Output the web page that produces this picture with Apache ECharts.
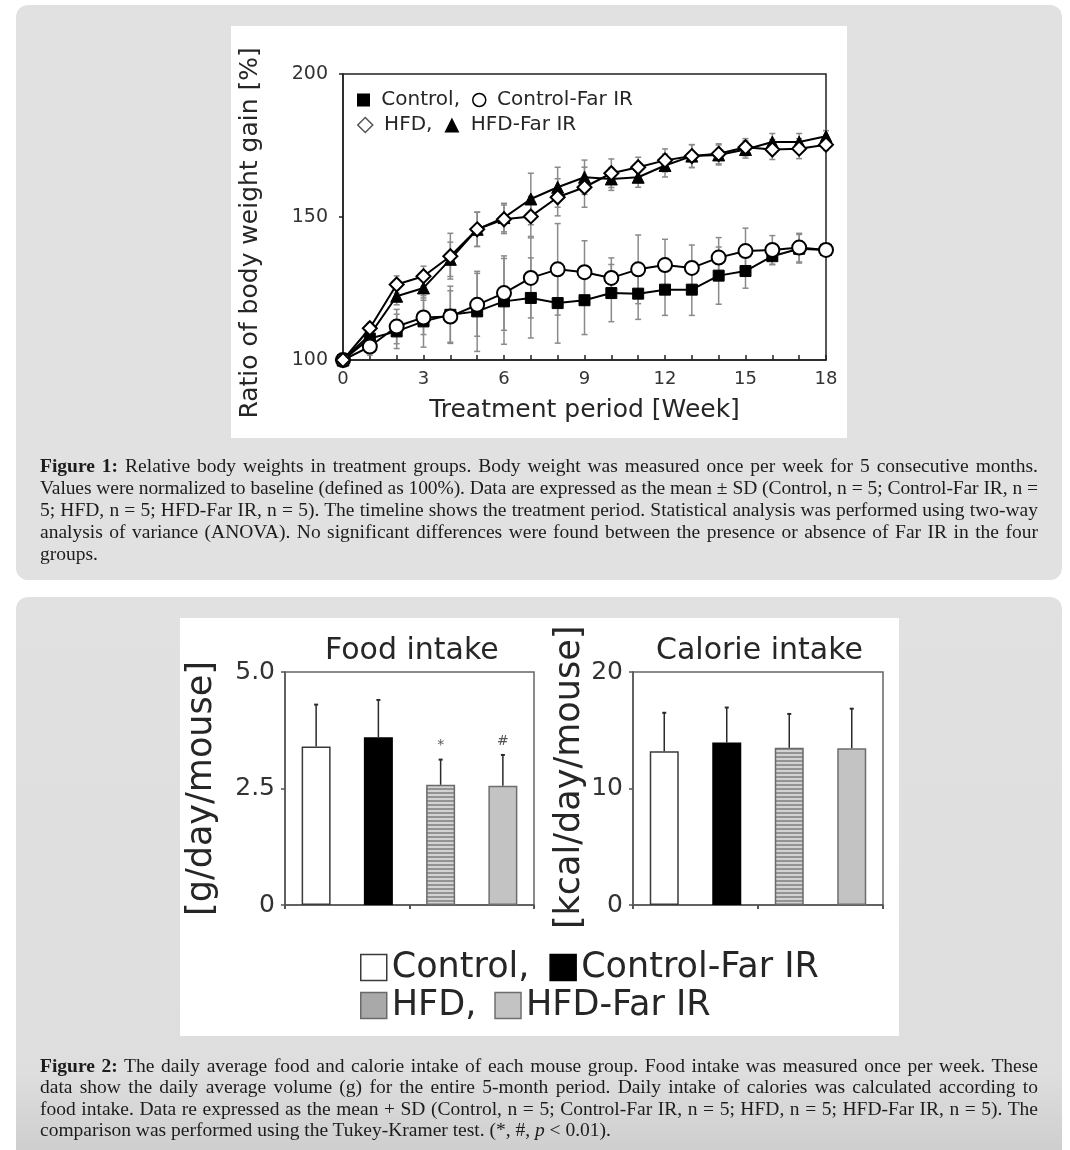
<!DOCTYPE html>
<html>
<head>
<meta charset="utf-8">
<script src="https://cdn.jsdelivr.net/npm/echarts@6/dist/echarts.min.js"></script>
<style>
html,body{margin:0;padding:0;background:#fff;}
#wrap{position:relative;width:1070px;height:1150px;overflow:hidden;background:#fff;}
.panel{position:absolute;left:16px;width:1046px;border-radius:12px;background:#e1e1e1;}
#p1{top:5px;height:575px;}
#p2{top:597px;height:580px;background:linear-gradient(to bottom,#e1e1e1 0%,#dedede 82%,#c9c9c9 100%);}
.wbox{position:absolute;background:#fff;}
#w1{left:231px;top:26px;width:616px;height:412px;}
#w2{left:180px;top:618px;width:719px;height:418px;}
#chart{position:absolute;left:0;top:0;width:1070px;height:1150px;}
.cap{position:absolute;left:40px;width:998px;font-family:"Liberation Serif","Times New Roman",serif;font-size:19.5px;color:#1c1c1c;}
.cap div{text-align:justify;text-align-last:justify;white-space:normal;}
.cap div.last{text-align-last:left;}
#c1{top:455px;line-height:22px;}
#c2{top:1055px;line-height:21.3px;}
</style>
</head>
<body>
<div id="wrap">
  <div class="panel" id="p1"></div>
  <div class="panel" id="p2"></div>
  <div class="wbox" id="w1"></div>
  <div class="wbox" id="w2"></div>
  <div id="chart"></div>
  <div class="cap" id="c1">
    <div><b>Figure 1:</b> Relative body weights in treatment groups. Body weight was measured once per week for 5 consecutive months.</div>
    <div>Values were normalized to baseline (defined as 100%). Data are expressed as the mean ± SD (Control, n = 5; Control-Far IR, n =</div>
    <div>5; HFD, n = 5; HFD-Far IR, n = 5). The timeline shows the treatment period. Statistical analysis was performed using two-way</div>
    <div>analysis of variance (ANOVA). No significant differences were found between the presence or absence of Far IR in the four</div>
    <div class="last">groups.</div>
  </div>
  <div class="cap" id="c2">
    <div><b>Figure 2:</b> The daily average food and calorie intake of each mouse group. Food intake was measured once per week. These</div>
    <div>data show the daily average volume (g) for the entire 5-month period. Daily intake of calories was calculated according to</div>
    <div>food intake. Data re expressed as the mean + SD (Control, n = 5; Control-Far IR, n = 5; HFD, n = 5; HFD-Far IR, n = 5). The</div>
    <div class="last">comparison was performed using the Tukey-Kramer test. (*, #, <i>p</i> &lt; 0.01).</div>
  </div>
</div>
<script>
// ---------- Figure 1 data ----------
const weeks = [0,1,2,3,4,5,6,7,8,9,10,11,12,13,14,15,16,17,18];
const control      = [100,107.5,110,113.5,115.8,117,120.5,121.7,119.9,120.9,123.4,123.2,124.6,124.6,129.5,131.1,136.3,138.9,138.5];
const controlSD    = [0,2,6,9,10,14,15,14,14,12,10,9,9,9,10,6,3,5,2];
const controlFar   = [100,104.7,111.7,114.9,115.2,119.3,123.4,128.7,131.7,130.7,128.7,131.7,133.2,132.2,135.8,138.1,138.5,139.3,138.5];
const controlFarSD = [0,3,6,6,9,11,13,14,16,11,7,12,9,8,7,8,5,5,2];
const hfd          = [100,111.1,126.4,129.3,136.3,145.7,149.2,150.2,156.9,160.4,165.3,167.4,169.8,171.3,172.1,174.4,173.6,173.9,175.3];
const hfdSD        = [0,2,3,3.5,8,6,5,7,6.5,7,5,3.5,4,4,3.5,3,3.5,3.5,2];
const hfdFar       = [100,108.8,122.3,125.2,135.2,145.7,149.8,156.3,160.4,163.9,163.3,163.9,168.0,171.3,171.7,173.6,176.2,176.2,178.2];
const hfdFarSD     = [0,2,3,3.5,6,6,5,9,7,6,4,3.5,4,4,3.5,3,3,3,2];
const yTicks1 = [100,150,200];
const xTicks1 = [0,3,6,9,12,15,18];

// ---------- Figure 2 data ----------
const groups    = ['Control','Control-Far IR','HFD','HFD-Far IR'];
const food      = [3.40,3.60,2.58,2.56];
const foodSD    = [0.90,0.80,0.54,0.66];
const foodSig   = ['','','*','#'];
const calorie   = [13.2,13.95,13.5,13.45];
const calorieSD = [3.3,3.0,2.9,3.4];
const calorieSig= ['','','',''];

const FONT = 'DejaVu Sans';
const TXT = '#262626';

function stripePattern(){
  const c = document.createElement('canvas');
  c.width = 4; c.height = 4;
  const g = c.getContext('2d');
  g.fillStyle = '#d2d2d2'; g.fillRect(0,0,4,4);
  g.fillStyle = '#939393'; g.fillRect(0,0,4,2);
  return c;
}
const stripe = {image: stripePattern(), repeat: 'repeat'};
const barStyles = [
  {color:'#ffffff', borderColor:'#3a3a3a', borderWidth:1.5},
  {color:'#000000', borderColor:'#000000', borderWidth:1.5},
  {color:stripe, borderColor:'#6a6a6a', borderWidth:1.5},
  {color:'#c3c3c3', borderColor:'#6e6e6e', borderWidth:1.5}
];

const chart = echarts.init(document.getElementById('chart'), null, {renderer:'canvas'});

function lineErr(xs, means, sds, name){
  return {
    type:'custom', name: name + ' SD', xAxisIndex:0, yAxisIndex:0, z:1, silent:true,
    data: xs.map((w,i)=>[w, means[i], sds[i]]),
    renderItem(params, api){
      const x = api.value(0), m = api.value(1), s = api.value(2);
      if (!s) return null;
      const hi = api.coord([x, m + s]), lo = api.coord([x, m - s]);
      const st = {stroke:'#8a8a8a', lineWidth:1.5};
      return {type:'group', children:[
        {type:'line', shape:{x1:hi[0],y1:hi[1],x2:lo[0],y2:lo[1]}, style:st},
        {type:'line', shape:{x1:hi[0]-3,y1:hi[1],x2:hi[0]+3,y2:hi[1]}, style:st},
        {type:'line', shape:{x1:lo[0]-3,y1:lo[1],x2:lo[0]+3,y2:lo[1]}, style:st}
      ]};
    }
  };
}

function lineSeries(name, data, symbol, size, filled, z){
  return {
    type:'line', name, xAxisIndex:0, yAxisIndex:0, z,
    data: weeks.map((w,i)=>[w, data[i]]),
    symbol, symbolSize:size, showSymbol:true,
    lineStyle:{color:'#000', width:2},
    itemStyle: filled ? {color:'#000', borderColor:'#000', borderWidth:1} : {color:'#fff', borderColor:'#000', borderWidth:2},
    emphasis:{disabled:true}
  };
}

function barSeries(gi, values){
  return groups.map((g,i)=>({
    type:'bar', name:g, xAxisIndex:gi, yAxisIndex:gi,
    data: values.map((v,j)=> j===i ? v : '-'),
    barWidth:29, barGap:'-100%',
    itemStyle: barStyles[i], emphasis:{disabled:true}
  }));
}

function barErr(gi, values, sds, sig){
  return {
    type:'custom', name:'SD'+gi, xAxisIndex:gi, yAxisIndex:gi, z:5, silent:true,
    data: values.map((v,i)=>[i, v, sds[i]]),
    renderItem(params, api){
      const i = api.value(0), m = api.value(1), s = api.value(2);
      const base = api.coord([i, m]), top = api.coord([i, m + s]);
      const ch = [
        {type:'line', shape:{x1:base[0],y1:base[1],x2:top[0],y2:top[1]}, style:{stroke:'#2a2a2a', lineWidth:1.5}},
        {type:'line', shape:{x1:top[0]-2,y1:top[1],x2:top[0]+2,y2:top[1]}, style:{stroke:'#2a2a2a', lineWidth:2}}
      ];
      if (sig[params.dataIndex]) {
        ch.push({type:'text', x:top[0], y:top[1]-7, style:{text:sig[params.dataIndex], align:'center', verticalAlign:'bottom', fontSize:14, fill:'#555', fontFamily:FONT}});
      }
      return {type:'group', children:ch};
    }
  };
}

const barYAxis = (gi, max, interval, name, gap, fmt) => ({
  type:'value', gridIndex:gi, min:0, max, interval,
  name, nameLocation:'middle', nameRotate:90, nameGap:gap,
  nameTextStyle:{fontFamily:FONT, fontSize:35, color:TXT},
  axisLine:{show:true, lineStyle:{color:'#555', width:1.5}},
  axisTick:{show:true, length:4, lineStyle:{color:'#555', width:1.5}},
  axisLabel:{fontFamily:FONT, fontSize:25, color:'#333', margin:10, formatter:fmt},
  splitLine:{show:false}
});
const barXAxis = (gi) => ({
  type:'category', gridIndex:gi, data:groups,
  axisLine:{show:true, lineStyle:{color:'#555', width:1.5}},
  axisTick:{show:true, length:4, lineStyle:{color:'#555', width:2}},
  axisLabel:{show:false}, splitLine:{show:false}
});

const option = {
  animation:false,
  backgroundColor:'transparent',
  textStyle:{fontFamily:FONT},
  title:[
    {text:'Food intake', left:320, top:631, textStyle:{fontFamily:FONT, fontSize:30, fontWeight:'normal', color:TXT}},
    {text:'Calorie intake', left:651, top:631, textStyle:{fontFamily:FONT, fontSize:30, fontWeight:'normal', color:TXT}}
  ],
  legend:[
    {left:352, top:85, itemWidth:13, itemHeight:13, itemGap:12, selectedMode:false,
     textStyle:{fontFamily:FONT, fontSize:20, color:TXT},
     formatter: n => n === 'Control' ? ' Control,' : ' ' + n,
     data:[{name:'Control', icon:'rect', itemStyle:{color:'#000', borderWidth:0}},
           {name:'Control-Far IR', icon:'circle', itemStyle:{color:'#fff', borderColor:'#000', borderWidth:1.5}}]},
    {left:352, top:110, itemWidth:15, itemHeight:15, itemGap:12, selectedMode:false,
     textStyle:{fontFamily:FONT, fontSize:20, color:TXT},
     formatter: n => n === 'HFD' ? ' HFD,' : ' ' + n,
     data:[{name:'HFD', icon:'diamond', itemStyle:{color:'#fff', borderColor:'#555', borderWidth:1.5}},
           {name:'HFD-Far IR', icon:'triangle', itemStyle:{color:'#000', borderWidth:0}}]},
    {left:355, top:945, itemWidth:26, itemHeight:26, itemGap:20, selectedMode:false,
     textStyle:{fontFamily:FONT, fontSize:35, color:TXT},
     formatter: n => n === 'Control' ? 'Control,' : n,
     data:[{name:'Control', icon:'rect', itemStyle:barStyles[0]},
           {name:'Control-Far IR', icon:'rect', itemStyle:barStyles[1]}]},
    {left:355, top:983, itemWidth:26, itemHeight:26, itemGap:18, selectedMode:false,
     textStyle:{fontFamily:FONT, fontSize:35, color:TXT},
     formatter: n => n === 'HFD' ? 'HFD,' : n,
     data:[{name:'HFD', icon:'rect', itemStyle:{color:'#a9a9a9', borderColor:'#6a6a6a', borderWidth:1.5}},
           {name:'HFD-Far IR', icon:'rect', itemStyle:barStyles[3]}]}
  ],
  grid:[
    {left:343, top:74, width:483, height:286, show:true, borderColor:'#222', borderWidth:1.5, backgroundColor:'transparent'},
    {left:285, top:672, width:249, height:233, show:true, borderColor:'#666', borderWidth:1.5, backgroundColor:'transparent'},
    {left:633, top:672, width:250, height:233, show:true, borderColor:'#666', borderWidth:1.5, backgroundColor:'transparent'}
  ],
  xAxis:[
    {type:'value', gridIndex:0, min:0, max:18, interval:3,
     name:'Treatment period [Week]', nameLocation:'middle', nameGap:38,
     nameTextStyle:{fontFamily:FONT, fontSize:25, color:TXT},
     axisLine:{show:true, onZero:false, lineStyle:{color:'#222', width:1.5}},
     axisTick:{show:true, inside:true, length:5, lineStyle:{color:'#222', width:1.5}},
     minorTick:{show:true, splitNumber:3, length:5, lineStyle:{color:'#222', width:1.5}},
     axisLabel:{fontFamily:FONT, fontSize:18, color:'#333', margin:10,
       formatter: v => xTicks1.includes(v) ? String(v) : ''},
     splitLine:{show:false}, minorSplitLine:{show:false}},
    barXAxis(1), barXAxis(2)
  ],
  yAxis:[
    {type:'value', gridIndex:0, min:100, max:200, interval:50,
     name:'Ratio of body weight gain [%]    ', nameLocation:'middle', nameRotate:90, nameGap:80,
     nameTextStyle:{fontFamily:FONT, fontSize:25, color:TXT},
     axisLine:{show:true, onZero:false, lineStyle:{color:'#222', width:1.5}},
     axisTick:{show:true, length:4, lineStyle:{color:'#222', width:1.5}},
     axisLabel:{fontFamily:FONT, fontSize:19, color:'#333', margin:15,
       formatter: v => yTicks1.includes(v) ? String(v) : ''},
     splitLine:{show:false}},
    barYAxis(1, 5, 2.5, '[g/day/mouse]', 66, v => v === 0 ? '0' : v.toFixed(1)),
    barYAxis(2, 20, 10, '  [kcal/day/mouse]', 46, v => String(v))
  ],
  series:[
    lineErr(weeks, control, controlSD, 'Control'),
    lineErr(weeks, controlFar, controlFarSD, 'Control-Far IR'),
    lineErr(weeks, hfd, hfdSD, 'HFD'),
    lineErr(weeks, hfdFar, hfdFarSD, 'HFD-Far IR'),
    lineSeries('Control', control, 'rect', 11, true, 3),
    lineSeries('HFD-Far IR', hfdFar, 'triangle', 12, true, 3),
    lineSeries('Control-Far IR', controlFar, 'circle', 14, false, 4),
    lineSeries('HFD', hfd, 'diamond', 14, false, 4),
    ...barSeries(1, food),
    ...barSeries(2, calorie),
    barErr(1, food, foodSD, foodSig),
    barErr(2, calorie, calorieSD, calorieSig)
  ]
};
chart.setOption(option);

// keep each caption line on one line by tightening letter spacing if needed
document.querySelectorAll('.cap div').forEach(d => {
  const lh = parseFloat(getComputedStyle(d).lineHeight);
  let ls = 0;
  while (d.getBoundingClientRect().height > lh * 1.5 && ls > -1.5) {
    ls -= 0.05; d.style.letterSpacing = ls.toFixed(2) + 'px';
  }
});
</script>
</body>
</html>
